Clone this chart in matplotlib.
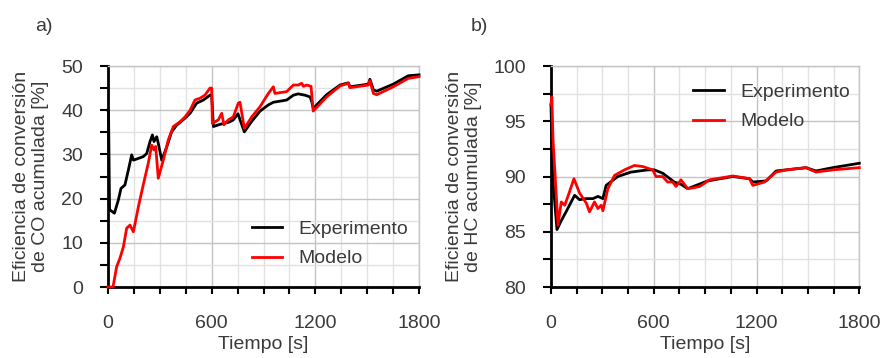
"""Accumulated CO / HC conversion efficiency: experiment vs model."""
import matplotlib
matplotlib.use("Agg")
import matplotlib.pyplot as plt
from matplotlib.ticker import MultipleLocator

plt.rcParams["font.family"] = ["Liberation Sans", "DejaVu Sans"]
plt.rcParams["font.size"] = 14

# --- panel a: CO ---
co_exp_t = [0, 3, 9, 37, 60, 75, 98, 118, 137, 147, 176, 204, 224, 243, 257, 266,
            282, 291, 311, 340, 368, 397, 446, 475, 513, 552, 590, 600, 610, 648,
            700, 725, 752, 789, 832, 880, 928, 957, 1034, 1073, 1100, 1140, 1170,
            1180, 1188, 1265, 1343, 1391, 1400, 1507, 1516, 1536, 1555, 1651, 1738,
            1800]
co_exp_v = [40, 40, 17.5, 16.7, 19.7, 22.3, 23.1, 26.5, 29.9, 28.7, 29.1, 29.5, 30.2,
            32.9, 34.4, 32.9, 34.0, 32.5, 28.7, 31.7, 35.1, 36.6, 38.2, 39.3, 41.6,
            42.3, 43.4, 43.5, 36.3, 36.8, 37.3, 37.8, 39.2, 35.1, 37.5, 39.8, 41.2,
            41.8, 42.3, 43.4, 43.7, 43.4, 43.0, 41.8, 40.4, 43.5, 45.7, 46.2, 45.3,
            45.9, 47.0, 44.6, 44.3, 45.9, 47.8, 48.0]
co_mod_t = [0, 29, 50, 69, 89, 108, 127, 147, 176, 204, 233, 253, 266, 276, 291, 320,
            349, 378, 417, 446, 475, 503, 532, 561, 590, 600, 604, 638, 658, 671, 696,
            725, 754, 764, 789, 832, 880, 928, 957, 966, 1034, 1073, 1102, 1121, 1131,
            1150, 1175, 1188, 1265, 1343, 1391, 1400, 1507, 1516, 1536, 1555, 1651,
            1738, 1800]
co_mod_v = [0, 0, 4.6, 6.5, 9.1, 13.3, 14.0, 12.5, 18.2, 23.1, 28.0, 32.1, 31.0, 31.8,
            24.6, 28.7, 33.3, 36.3, 37.4, 38.5, 40.0, 42.3, 42.7, 43.4, 45.0, 45.0,
            37.0, 37.8, 39.3, 36.7, 37.8, 38.5, 41.6, 41.8, 35.9, 38.5, 40.8, 43.8,
            45.3, 43.8, 44.2, 45.7, 45.7, 46.1, 45.4, 45.7, 45.4, 39.8, 43.0, 45.5,
            46.1, 45.1, 45.7, 46.7, 43.8, 43.5, 45.3, 47.2, 47.6]

# --- panel b: HC ---
hc_exp_t = [0, 10, 35, 60, 88, 138, 167, 206, 245, 274, 303, 322, 390, 467, 565, 603,
            652, 720, 759, 798, 914, 1062, 1159, 1178, 1256, 1314, 1373, 1489, 1547,
            1644, 1800]
hc_exp_v = [96.5, 90.0, 85.2, 86.0, 86.8, 88.3, 87.9, 88.0, 88.0, 88.2, 88.0, 89.2,
            90.0, 90.4, 90.6, 90.6, 90.3, 89.5, 89.3, 88.9, 89.6, 90.0, 89.8, 89.5,
            89.6, 90.5, 90.6, 90.8, 90.5, 90.8, 91.2]
hc_mod_t = [0, 5, 12, 41, 60, 80, 99, 134, 167, 206, 225, 254, 274, 293, 303, 332, 371,
            429, 487, 536, 594, 613, 652, 681, 710, 730, 759, 798, 837, 868, 926, 1062,
            1159, 1178, 1246, 1314, 1373, 1489, 1547, 1644, 1800]
hc_mod_v = [96.5, 97.2, 93.3, 85.6, 87.7, 87.4, 88.2, 89.8, 88.5, 87.6, 86.8, 87.7,
            87.1, 87.4, 86.9, 88.9, 90.1, 90.6, 91.0, 90.9, 90.6, 90.0, 90.0, 89.5,
            89.5, 89.1, 89.7, 88.9, 89.0, 89.1, 89.7, 90.05, 89.8, 89.2, 89.5, 90.4,
            90.6, 90.8, 90.4, 90.6, 90.8]

panels = [
    ("a)", co_exp_t, co_exp_v, co_mod_t, co_mod_v, (0, 50), 10, 5,
     "Eficiencia de conversión\nde CO acumulada [%]", (0.462, 0.195), -0.19, -0.235),
    ("b)", hc_exp_t, hc_exp_v, hc_mod_t, hc_mod_v, (80, 100), 5, 2.5,
     "Eficiencia de conversión\nde HC acumulada [%]", (0.462, 0.815), -0.225, -0.262),
]

fig = plt.figure(figsize=(8.81, 3.58), dpi=100)
axes = [fig.add_axes([0.1226, 0.1983, 0.353, 0.6173]),
        fig.add_axes([0.6254, 0.1983, 0.350, 0.6173])]
text_c = "#3a3a3a"

for ax, (tag, et, ev, mt, mv, ylim, ymaj, ymin, ylab, leg_xy, lab_x, tag_x) in zip(axes, panels):
    ax.plot(et, ev, color="black", lw=2.0, label="Experimento", zorder=3, clip_on=False)
    ax.plot(mt, mv, color="red", lw=2.0, label="Modelo", zorder=4, clip_on=False)
    ax.set_xlim(0, 1800)
    ax.set_ylim(*ylim)
    ax.xaxis.set_major_locator(MultipleLocator(600))
    ax.xaxis.set_minor_locator(MultipleLocator(150))
    ax.yaxis.set_major_locator(MultipleLocator(ymaj))
    ax.yaxis.set_minor_locator(MultipleLocator(ymin))
    ax.grid(which="major", color="#c4c4c4", lw=1.0, zorder=0)
    ax.grid(which="minor", color="#e2e2e2", lw=1.0, zorder=0)
    ax.set_axisbelow(True)
    for side in ("left", "bottom"):
        ax.spines[side].set_color("black")
        ax.spines[side].set_linewidth(2.0)
    for side in ("top", "right"):
        ax.spines[side].set_color("#c4c4c4")
        ax.spines[side].set_linewidth(1.0)
    ax.tick_params(axis="both", which="both", width=1.5, color="black", labelcolor=text_c)
    ax.tick_params(axis="y", which="both", length=6, pad=12)
    ax.tick_params(axis="x", which="both", length=5, pad=15)
    ax.set_xlabel("Tiempo [s]", color=text_c, labelpad=3)
    ax.set_ylabel(ylab, color=text_c, linespacing=1.15)
    ax.yaxis.set_label_coords(lab_x, 0.5)
    ax.legend(loc="center left", bbox_to_anchor=leg_xy, frameon=False,
              borderpad=0, borderaxespad=0, handlelength=1.55, handletextpad=0.85,
              labelspacing=0.6, labelcolor=text_c)
    ax.text(tag_x, 1.18, tag, transform=ax.transAxes,
            color=text_c, fontsize=14, va="center", ha="left")

fig.savefig("out.png", dpi=100)
